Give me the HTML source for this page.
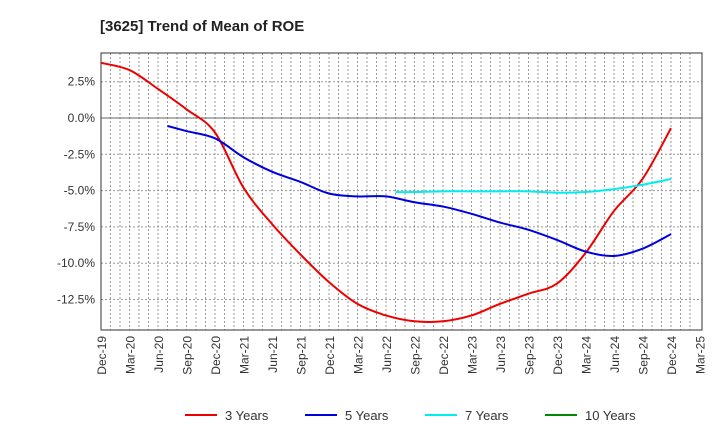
<!DOCTYPE html>
<html><head><meta charset="utf-8"><style>
body{margin:0;background:#fff;font-family:"Liberation Sans",sans-serif}
</style></head><body>
<svg id="c" width="720" height="440" xmlns="http://www.w3.org/2000/svg">
<text x="100" y="31" font-size="15" font-weight="bold" fill="#222">[3625]  Trend of Mean of ROE</text>
</svg>
<script>
const xLabels=["Dec-19","Mar-20","Jun-20","Sep-20","Dec-20","Mar-21","Jun-21","Sep-21","Dec-21","Mar-22","Jun-22","Sep-22","Dec-22","Mar-23","Jun-23","Sep-23","Dec-23","Mar-24","Jun-24","Sep-24","Dec-24","Mar-25"];
const yTicks=[2.5,0,-2.5,-5,-7.5,-10,-12.5];
const yTickLabels=["2.5%","0.0%","-2.5%","-5.0%","-7.5%","-10.0%","-12.5%"];
const months3=[0,3,6,9,12,15,18,21,24,27,30,33,36,39,42,45,48,51,54,57,60];
const vals3=[3.8,3.3,2.0,0.6,-1.0,-4.8,-7.3,-9.4,-11.3,-12.8,-13.6,-14.0,-14.0,-13.6,-12.8,-12.1,-11.4,-9.3,-6.4,-4.2,-0.7];
const months5=[7,9,12,15,18,21,24,27,30,33,36,39,42,45,48,51,54,57,60];
const vals5=[-0.55,-0.9,-1.4,-2.7,-3.7,-4.4,-5.2,-5.4,-5.4,-5.8,-6.1,-6.6,-7.2,-7.7,-8.4,-9.2,-9.5,-9.0,-8.0];
const months7=[31,33,36,39,42,45,48,51,54,57,60];
const vals7=[-5.1,-5.1,-5.05,-5.05,-5.05,-5.05,-5.15,-5.1,-4.9,-4.6,-4.2];
const months10=[];
const vals10=[];
const L=101,R=702,T=53,B=330;
const X=m=>L+m*9.5;
const Y=v=>118-v*14.52;
const svg=document.getElementById('c');
const NS="http://www.w3.org/2000/svg";
function mk(t,a){const e=document.createElementNS(NS,t);for(const k in a)e.setAttribute(k,a[k]);svg.appendChild(e);return e;}
for(let m=1;m<63;m++){const g=mk('line',{x1:X(m),x2:X(m),y1:T,y2:B,stroke:'#999','stroke-dasharray':'2,2','stroke-width':1});

}
yTicks.forEach((v,i)=>{const g=mk('line',{x1:L,x2:R,y1:Y(v),y2:Y(v),stroke:v===0?'#666':'#999','stroke-dasharray':v===0?'':'2,2','stroke-width':1});


const t=mk('text',{x:L-6,y:Y(v)+4,'text-anchor':'end','font-size':12,fill:'#333'});t.textContent=yTickLabels[i];

});
const fr=mk('rect',{x:L,y:T,width:R-L,height:B-T,fill:'none',stroke:'#333'});


xLabels.forEach((s,i)=>{const x=X(i*3)+1;const t=mk('text',{x:x+4,y:B+6,'text-anchor':'end','font-size':12,fill:'#333',transform:`rotate(-90 ${x+4} ${B+6})`});t.textContent=s;

});
function path(ms,vs){const p=ms.map((m,i)=>[X(m),Y(vs[i])]);if(!p.length)return'';let d=`M${p[0][0]},${p[0][1]}`;
for(let i=0;i<p.length-1;i++){const p0=p[i-1]||p[i],p1=p[i],p2=p[i+1],p3=p[i+2]||p2;
d+=` C${p1[0]+(p2[0]-p0[0])/6},${p1[1]+(p2[1]-p0[1])/6} ${p2[0]-(p3[0]-p1[0])/6},${p2[1]-(p3[1]-p1[1])/6} ${p2[0]},${p2[1]}`;}return d;}
[[months3,vals3,'#e00','series-3-years'],[months5,vals5,'#00d','series-5-years'],[months7,vals7,'#0ee','series-7-years'],[months10,vals10,'#080','series-10-years']].forEach(s=>{
if(!s[0].length)return;const e=mk('path',{d:path(s[0],s[1]),fill:'none',stroke:s[2],'stroke-width':2});

});
const leg=[["3 Years",'#e00',185],["5 Years",'#00d',305],["7 Years",'#0ee',425],["10 Years",'#080',545]];
leg.forEach(l=>{const ln=mk('line',{x1:l[2],x2:l[2]+32,y1:415,y2:415,stroke:l[1],'stroke-width':2});


const t=mk('text',{x:l[2]+40,y:420,'font-size':13,fill:'#333'});t.textContent=l[0];

});
</script>
</body></html>
